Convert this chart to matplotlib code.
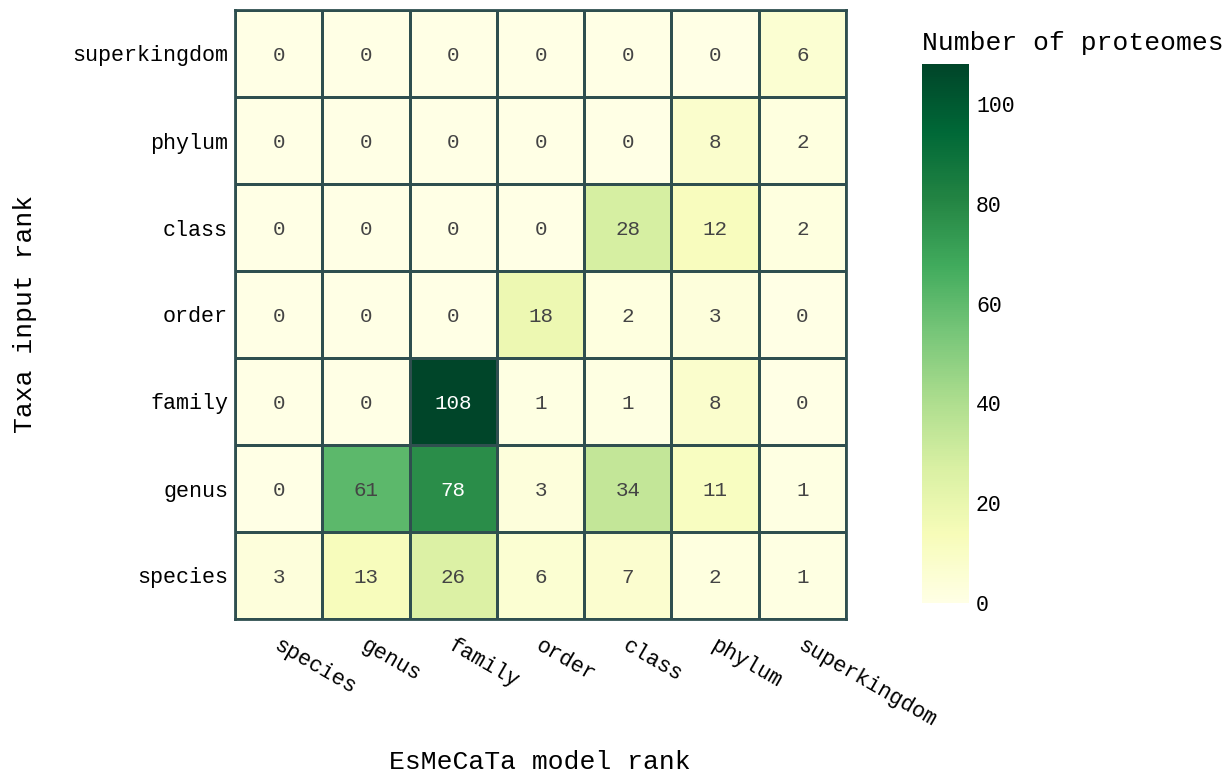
import numpy as np
import matplotlib
matplotlib.use("Agg")
import matplotlib.pyplot as plt
from matplotlib.colors import Normalize

plt.rcParams["font.family"] = ["Liberation Mono", "DejaVu Sans Mono"]

model_ranks = ["species", "genus", "family", "order", "class", "phylum", "superkingdom"]
input_ranks = ["superkingdom", "phylum", "class", "order", "family", "genus", "species"]

counts_superkingdom = [0, 0, 0, 0, 0, 0, 6]
counts_phylum = [0, 0, 0, 0, 0, 8, 2]
counts_class = [0, 0, 0, 0, 28, 12, 2]
counts_order = [0, 0, 0, 18, 2, 3, 0]
counts_family = [0, 0, 108, 1, 1, 8, 0]
counts_genus = [0, 61, 78, 3, 34, 11, 1]
counts_species = [3, 13, 26, 6, 7, 2, 1]

z = np.array([counts_superkingdom, counts_phylum, counts_class, counts_order,
              counts_family, counts_genus, counts_species])

fig = plt.figure(figsize=(12.32, 7.74), dpi=100)
ax = fig.add_axes([235 / 1232, 1 - 619 / 774, 611 / 1232, 609 / 774])

norm = Normalize(vmin=0, vmax=z.max())
cmap = plt.get_cmap("YlGn")
mesh = ax.pcolormesh(z, cmap=cmap, norm=norm, edgecolor="#2f4f4f", linewidth=2.0)
ax.set_xlim(0, z.shape[1])
ax.set_ylim(z.shape[0], 0)

for i in range(z.shape[0]):
    for j in range(z.shape[1]):
        v = z[i, j]
        ax.text(j + 0.5, i + 0.52, str(v), ha="center", va="center",
                fontsize=15, color="white" if v > 70 else "#444444")

ax.set_xticks(np.arange(z.shape[1]) + 0.5)
ax.set_yticks(np.arange(z.shape[0]) + 0.5)
ax.set_yticklabels(input_ranks, fontsize=15.7)
ax.set_xticklabels(model_ranks, fontsize=15.7, rotation=-30, ha="left",
                   va="center", rotation_mode="anchor")
ax.tick_params(axis="both", length=0)
ax.tick_params(axis="y", pad=5)
ax.tick_params(axis="x", pad=18)
for lbl in ax.get_xticklabels():
    lbl.set_transform(lbl.get_transform() + matplotlib.transforms.ScaledTranslation(-3 / 100, 0, fig.dpi_scale_trans))
for s in ax.spines.values():
    s.set_edgecolor("#2f4f4f")
    s.set_linewidth(2.0)

fig.text(540 / 1232, 1 - 762 / 774, "EsMeCaTa model rank", ha="center", va="center", fontsize=19)
fig.text(25 / 1232, 1 - 314 / 774, "Taxa input rank", ha="center", va="center",
         fontsize=19, rotation=90)

cax = fig.add_axes([922 / 1232, 1 - 603 / 774, 47 / 1232, 539 / 774])
cb = fig.colorbar(mesh, cax=cax)
cb.outline.set_visible(False)
cb.set_ticks([0, 20, 40, 60, 80, 100])
cax.tick_params(length=0, labelsize=15.5, pad=5)
fig.text(922 / 1232, 1 - 43 / 774, "Number of proteomes", ha="left", va="center", fontsize=19)

fig.savefig("out.png", dpi=100)
